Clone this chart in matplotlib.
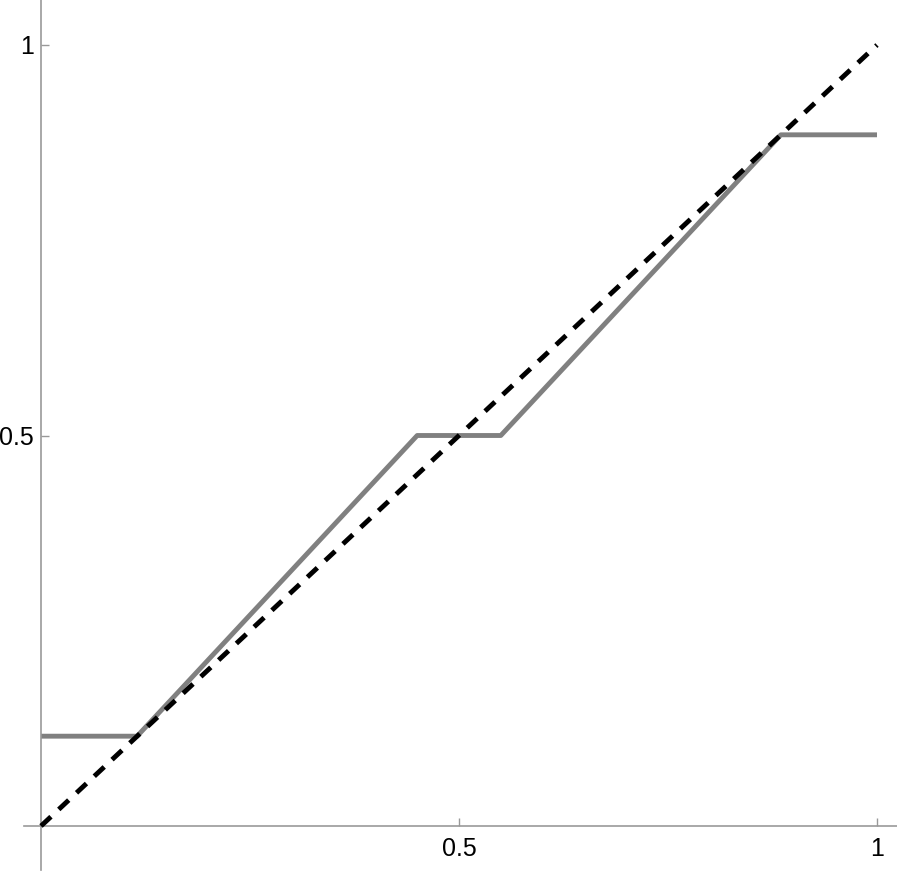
import matplotlib
matplotlib.use("Agg")
import matplotlib.pyplot as plt

# piecewise curve (gray) and the identity line (dashed)
curve_x = [0, 0.115, 0.45, 0.55, 0.885, 1]
curve_y = [0.115, 0.115, 0.5, 0.5, 0.885, 0.885]
diag_x = [0, 1]
diag_y = [0, 1]
tick_vals = [0.5, 1]
tick_labels = ["0.5", "1"]

plt.rcParams['font.family'] = ['Liberation Sans', 'DejaVu Sans']

fig = plt.figure(figsize=(8.97, 8.75), dpi=100)
ax = fig.add_axes([0, 0, 1, 1])

ax.plot(curve_x, curve_y, color="#808080", lw=3.5, solid_capstyle="butt", zorder=2)
ax.plot(diag_x, diag_y, color="black", lw=3.5, dashes=(2.8, 2.2), zorder=3)

# map data to pixels like the reference
ax.set_xlim(-41 / 836, 856 / 836)
ax.set_ylim(-49 / 781, 826 / 781)

for s in ["top", "right"]:
    ax.spines[s].set_visible(False)
ax.spines["left"].set_position(("data", 0))
ax.spines["bottom"].set_position(("data", 0))
ax.spines["left"].set_bounds(-44 / 781, 826 / 781)
ax.spines["bottom"].set_bounds(-17 / 836, 856 / 836)
for s in ["left", "bottom"]:
    ax.spines[s].set_color("#999999")
    ax.spines[s].set_linewidth(1.2)

ax.set_xticks(tick_vals, tick_labels)
ax.set_yticks(tick_vals, tick_labels)
ax.tick_params(direction="in", length=6, width=1, color="#999999",
               labelsize=18, labelcolor="black")
ax.tick_params(axis="x", pad=8)
ax.tick_params(axis="y", pad=5)

fig.savefig("out.png", dpi=100)
